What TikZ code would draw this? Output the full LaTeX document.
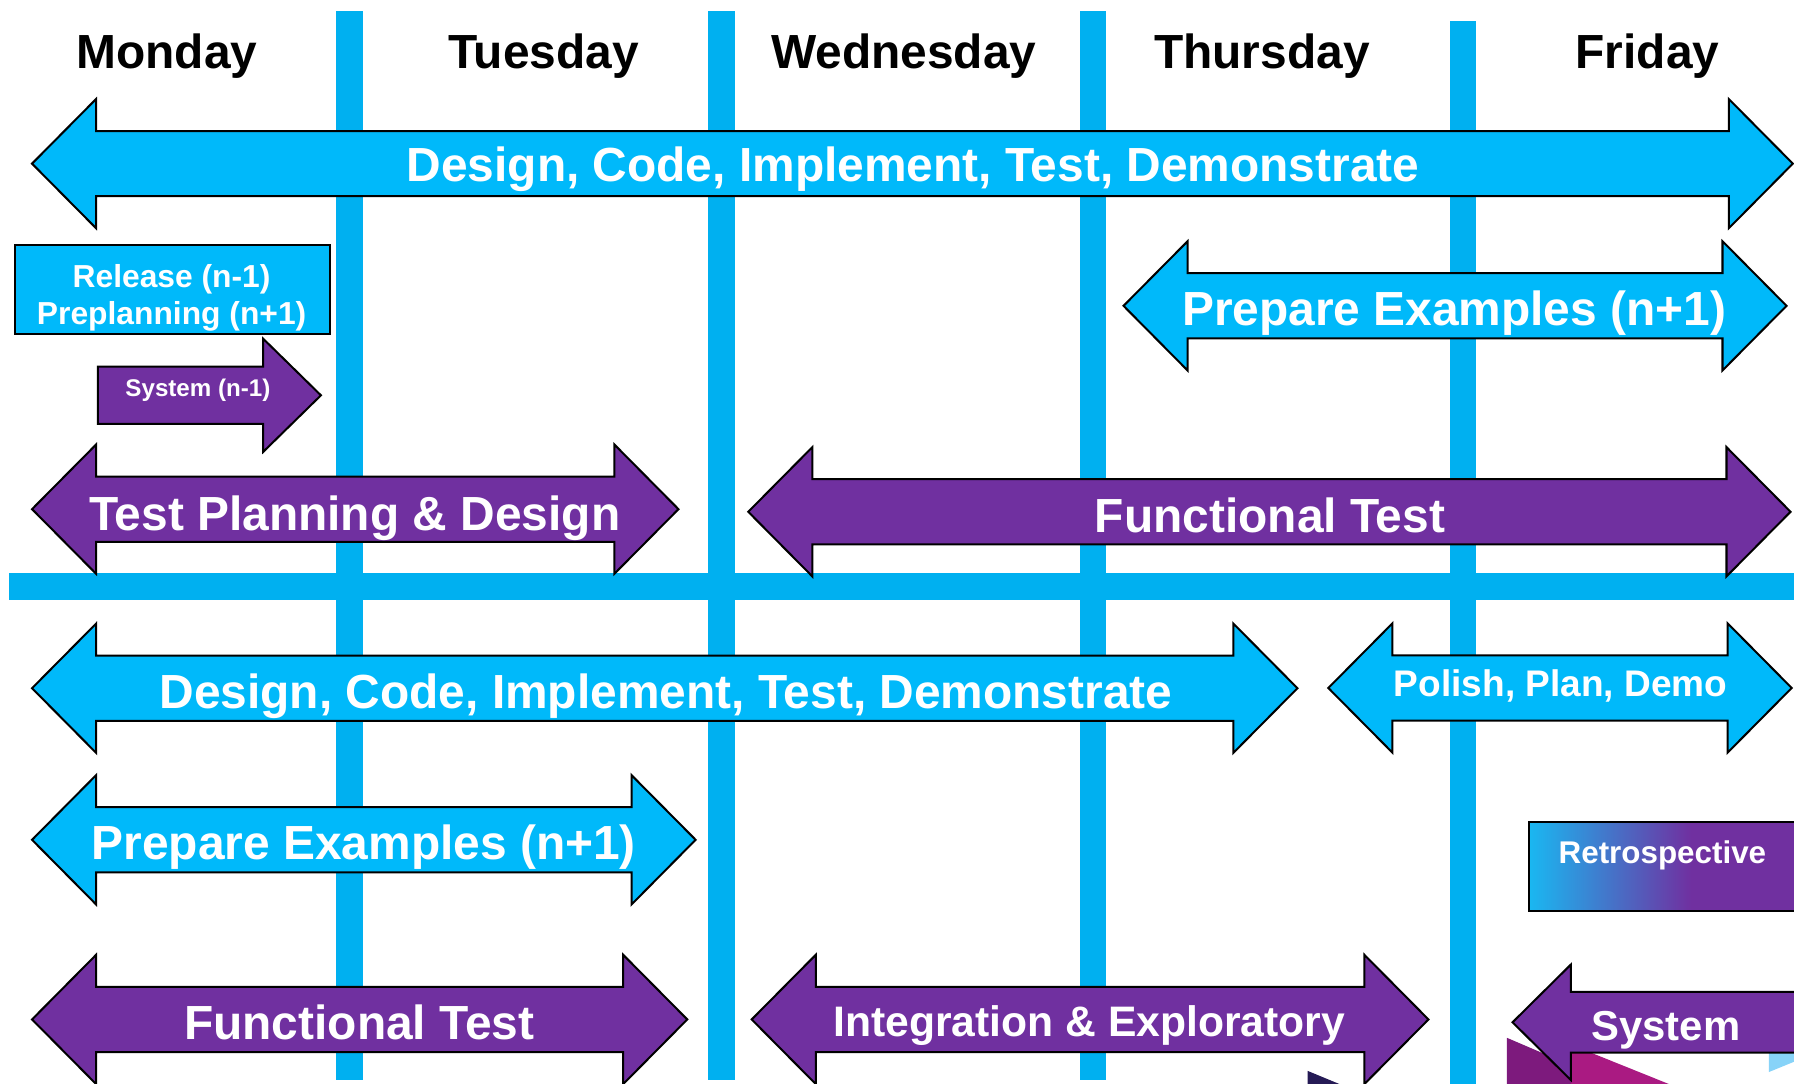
\documentclass[tikz,border=0pt]{standalone}
\usepackage{fontspec}
\setmainfont{Liberation Sans}
\definecolor{arrblue}{RGB}{0,185,250}
\definecolor{linblue}{RGB}{0,176,240}
\definecolor{arrpurple}{RGB}{112,48,160}
\definecolor{stripedark}{RGB}{125,26,125}
\definecolor{stripemag}{RGB}{170,26,130}
\definecolor{stripelight}{RGB}{135,211,248}
\definecolor{stripenavy}{RGB}{37,26,85}
\begin{document}
\begin{tikzpicture}[x=0.01cm,y=-0.01cm,line join=miter,
	bluearr/.style={fill=arrblue,draw=black,line width=0.5pt},
	purarr/.style={fill=arrpurple,draw=black,line width=0.5pt},
	daytxt/.style={anchor=base,text=black,font=\bfseries\fontsize{11.9}{14}\selectfont},
	bigtxt/.style={anchor=base,text=white,font=\bfseries\fontsize{11.9}{14}\selectfont},
	midtxt/.style={anchor=base,text=white,font=\bfseries\fontsize{#1}{12}\selectfont}]
		\def\hl{56} \def\hh{56.5} \def\hs{28.5}
		% double arrow: style, left tip, right tip, centre
		\def\dblarrow#1#2#3#4{\draw[#1] (#2,#4) -- ({#2+\hl},{#4-\hh}) -- ({#2+\hl},{#4-\hs}) -- ({#3-\hl},{#4-\hs}) -- ({#3-\hl},{#4-\hh}) -- (#3,#4) -- ({#3-\hl},{#4+\hh}) -- ({#3-\hl},{#4+\hs}) -- ({#2+\hl},{#4+\hs}) -- ({#2+\hl},{#4+\hh}) -- cycle;}
		\useasboundingbox (0,0) rectangle (1568,947);
		\clip (0,0) rectangle (1568,947);
		% day grid
		\fill[linblue] (294,10) rectangle (317,944);
		\fill[linblue] (619,10) rectangle (642,944);
		\fill[linblue] (944,10) rectangle (967,944);
		\fill[linblue] (1267,18) rectangle (1290,947);
		\fill[linblue] (8,501) rectangle (1568,524);
		\path
		(146,60) node[daytxt] (mon) {Monday}
		(475,60) node[daytxt] (tue) {Tuesday}
		(790,60) node[daytxt] (wed) {Wednesday}
		(1103,60) node[daytxt] (thu) {Thursday}
		(1440,60) node[daytxt] (fri) {Friday}
		;
		% background stripes
		\fill[stripedark] (1317,907) -- (1373,931) -- (1373,948) -- (1317,948) -- cycle;
		\fill[stripemag] (1373,913) -- (1460,948) -- (1373,948) -- cycle;
		\fill[stripelight] (1546,915) -- (1568,915) -- (1568,928) -- (1546,937) -- cycle;
		\fill[stripenavy] (1143,936) -- (1172,948) -- (1143,948) -- cycle;
		% boxes
		\draw[bluearr] (13,214) rectangle (288,292);
		\shade[left color=linblue!90!white,right color=arrpurple] (1336,718) rectangle (1478,796);
		\fill[arrpurple] (1478,718) rectangle (1600,796);
		\draw[line width=0.5pt] (1600,718) -- (1336,718) -- (1336,796) -- (1600,796);
		% arrows
		\dblarrow{bluearr}{28}{1567}{143}
		\dblarrow{bluearr}{982}{1561.5}{267.3}
		\dblarrow{purarr}{28}{593}{445}
		\dblarrow{purarr}{654}{1565}{447.3}
		\dblarrow{bluearr}{28}{1134}{601.5}
		\dblarrow{bluearr}{1161}{1566}{601.3}
		\dblarrow{bluearr}{28}{608}{734}
		\dblarrow{purarr}{28}{600.7}{891}
		\dblarrow{purarr}{657}{1248.5}{891}
		\draw[purarr] (85.5,320.5) -- (230,320.5) -- (230,296) -- (280.5,345.5) -- (230,395) -- (230,370.5) -- (85.5,370.5) -- cycle;
		\draw[purarr] (1322,893.5) -- (1373,843) -- (1373,867) -- (1600,867) -- (1600,920) -- (1373,920) -- (1373,944) -- cycle;
		% labels
		\path
		(798,159) node[bigtxt] (dcit1) {Design, Code, Implement, Test, Demonstrate}
		(1271,284.7) node[bigtxt] (prep1) {Prepare Examples (n+1)}
		(310,463.5) node[bigtxt] (tpd) {Test Planning \& Design}
		(1110,465) node[bigtxt] (func1) {Functional Test}
		(582,619) node[bigtxt] (dcit2) {Design, Code, Implement, Test, Demonstrate}
		(1364,609) node[midtxt=9.2] (ppd) {Polish, Plan, Demo}
		(318,751.5) node[bigtxt] (prep2) {Prepare Examples (n+1)}
		(314,908.6) node[bigtxt] (func2) {Functional Test}
		(952,906.3) node[midtxt=10.6] (intexp) {Integration \& Exploratory}
		(1456,909) node[midtxt=10.4] (sys2) {System}
		(1453,755) node[midtxt=7.8] (retro) {Retrospective}
		(173,346.2) node[midtxt=6] (sys1) {System (n-1)}
		;
		\node[text=white,align=center,font=\bfseries\fontsize{7.9}{9.28}\selectfont] (rel) at (150,260.5) {Release (n-1)\\Preplanning (n+1)};
	\end{tikzpicture}
\end{document}
